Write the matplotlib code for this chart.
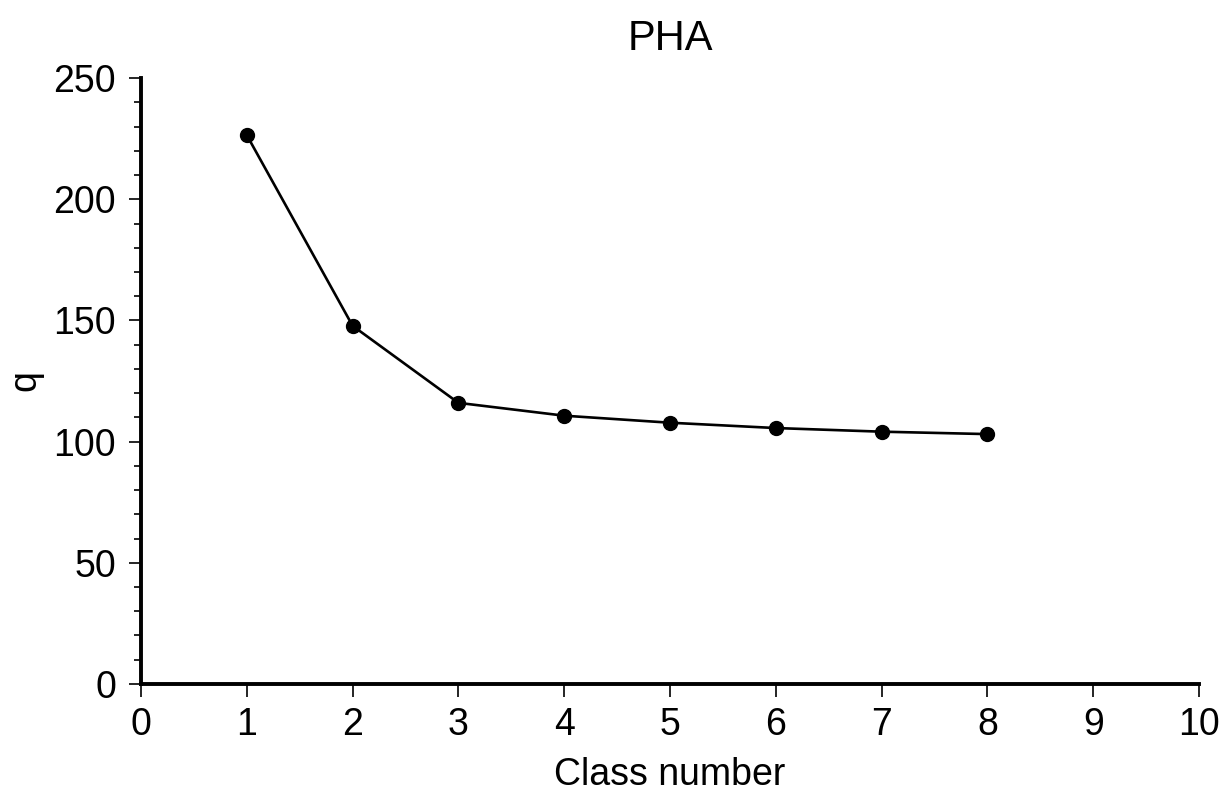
import matplotlib
matplotlib.use('Agg')
import matplotlib.pyplot as plt
from matplotlib.ticker import MultipleLocator

plt.rcParams['font.family'] = ['Liberation Sans', 'DejaVu Sans']

class_number = [1, 2, 3, 4, 5, 6, 7, 8]
q_values = [226.5, 147.8, 116.0, 110.7, 107.8, 105.6, 104.1, 103.1]

fig = plt.figure(figsize=(12.26, 7.98), dpi=100)
ax = fig.add_axes([0.115, 0.143, 0.863, 0.759])

ax.plot(class_number, q_values, color='black', linewidth=1.9,
        marker='o', markersize=10, clip_on=False)

ax.set_xlim(0, 10)
ax.set_ylim(0, 250)
ax.xaxis.set_major_locator(MultipleLocator(1))
ax.yaxis.set_major_locator(MultipleLocator(50))
ax.yaxis.set_minor_locator(MultipleLocator(10))

for side in ['top', 'right']:
    ax.spines[side].set_visible(False)
for side in ['left', 'bottom']:
    ax.spines[side].set_linewidth(2.8)

ax.tick_params(axis='both', which='major', direction='out', length=9, width=1.2,
               labelsize=27)
ax.tick_params(axis='y', which='major', pad=9)
ax.tick_params(axis='x', which='major', pad=8)
ax.tick_params(axis='y', which='minor', direction='out', length=5, width=1.2)

ax.set_xlabel('Class number', fontsize=27, labelpad=10)
ax.set_ylabel('q', fontsize=27, labelpad=7)
ax.set_title('PHA', fontsize=30, pad=20)

fig.savefig('out.png', dpi=100)
